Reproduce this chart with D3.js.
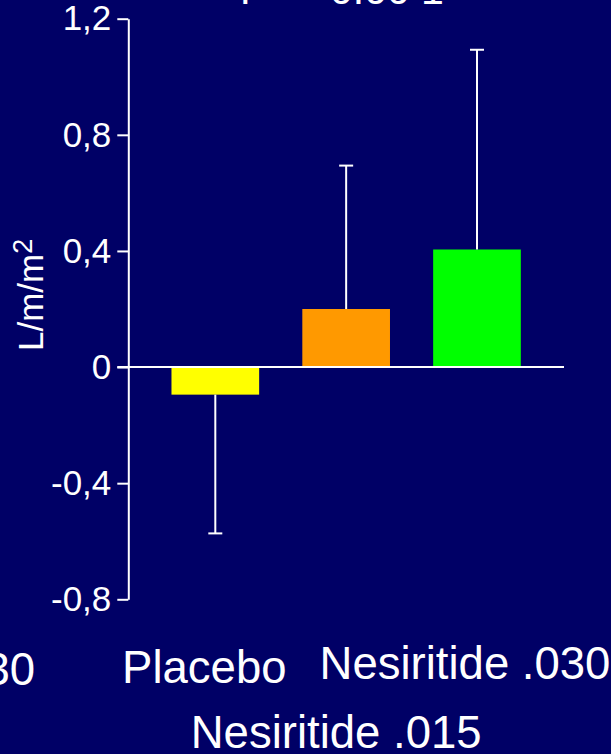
<!DOCTYPE html>
<html>
<head>
<meta charset="utf-8">
<script src="https://cdn.jsdelivr.net/npm/d3@7/dist/d3.min.js"></script>
<style>
  html, body { margin: 0; padding: 0; background: #000066; }
  svg { display: block; }
  text { font-family: "Liberation Sans", Arial, sans-serif; fill: #ffffff; }
</style>
</head>
<body>
<script>
// Change in cardiac index by treatment group
const categories = ["Placebo", "Nesiritide .015", "Nesiritide .030"];
const means = [-0.095, 0.2, 0.405];
const errors = [0.478, 0.494, 0.688];
const colors = ["#ffff00", "#ff9900", "#00ff00"];
const yTicks = [-0.8, -0.4, 0, 0.4, 0.8, 1.2];
const yLabel = "L/m/m";
const pText = ["P = ", "0.00", "1"];

const W = 611, H = 754;
const svg = d3.select("body").append("svg").attr("width", W).attr("height", H);
svg.append("rect").attr("width", W).attr("height", H).attr("fill", "#000066");

const x = d3.scaleBand().domain(categories).range([128.3, 564]).padding(0.33);
const y = d3.scaleLinear().domain([-0.8, 1.2]).range([599.3, 18.7]);

const locale = d3.formatLocale({ decimal: ",", thousands: ".", grouping: [3], currency: ["", ""], minus: "-" });
const fmt = v => v === 0 ? "0" : locale.format(".1f")(v);

// p-value heading, mostly above the top edge
const pt = svg.append("text").attr("y", 4).style("font-size", "41px");
pt.append("tspan").attr("x", 240).text(pText[0]);
pt.append("tspan").attr("x", 330).text(pText[1]);
pt.append("tspan").attr("x", 421).text(pText[2]);

// y axis
const yAxis = svg.append("g")
  .attr("transform", `translate(${x.range()[0]},0)`)
  .call(d3.axisLeft(y).tickValues(yTicks).tickFormat(fmt).tickSize(11).tickSizeOuter(0).tickPadding(6));
yAxis.select(".domain").attr("stroke", "#ffffff").attr("stroke-width", 2);
yAxis.selectAll(".tick line").attr("stroke", "#ffffff").attr("stroke-width", 2);
yAxis.selectAll(".tick text")
  .attr("fill", "#ffffff")
  .style("font-family", "'Liberation Sans', Arial, sans-serif")
  .style("font-size", "35px");

// y axis title
const yl = svg.append("text")
  .attr("transform", `translate(43,351) rotate(-90)`)
  .style("font-size", "35px")
  .text(yLabel);
yl.append("tspan").attr("dy", "-0.42em").style("font-size", "27px").text("2");

// bars
svg.append("g").selectAll("rect").data(categories).join("rect")
  .attr("x", d => x(d))
  .attr("width", x.bandwidth())
  .attr("y", (d, i) => y(Math.max(0, means[i])))
  .attr("height", (d, i) => Math.abs(y(means[i]) - y(0)))
  .attr("fill", (d, i) => colors[i]);

// error bars extend away from zero
const eg = svg.append("g").attr("stroke", "#ffffff").attr("stroke-width", 2);
categories.forEach((c, i) => {
  const cx = x(c) + x.bandwidth() / 2;
  const end = means[i] + Math.sign(means[i]) * errors[i];
  eg.append("line").attr("x1", cx).attr("x2", cx).attr("y1", y(means[i])).attr("y2", y(end));
  eg.append("line").attr("x1", cx - 7).attr("x2", cx + 7).attr("y1", y(end)).attr("y2", y(end));
});

// zero baseline
svg.append("line")
  .attr("x1", x.range()[0] - 11).attr("x2", x.range()[1])
  .attr("y1", y(0)).attr("y2", y(0))
  .attr("stroke", "#ffffff").attr("stroke-width", 2);

// category labels, staggered over two rows
const labelRow = [683, 748, 679];
const labelShift = [-11, -10, -12];
svg.append("g").selectAll("text").data(categories).join("text")
  .attr("x", (d, i) => x(d) + x.bandwidth() / 2 + labelShift[i])
  .attr("y", (d, i) => labelRow[i])
  .attr("text-anchor", "middle")
  .style("font-size", "45.5px")
  .text(d => d);

// neighbouring label cut by the left edge
svg.append("text").attr("x", 35).attr("y", 685).attr("text-anchor", "end")
  .style("font-size", "45.5px").text(categories[2]);
</script>
</body>
</html>
